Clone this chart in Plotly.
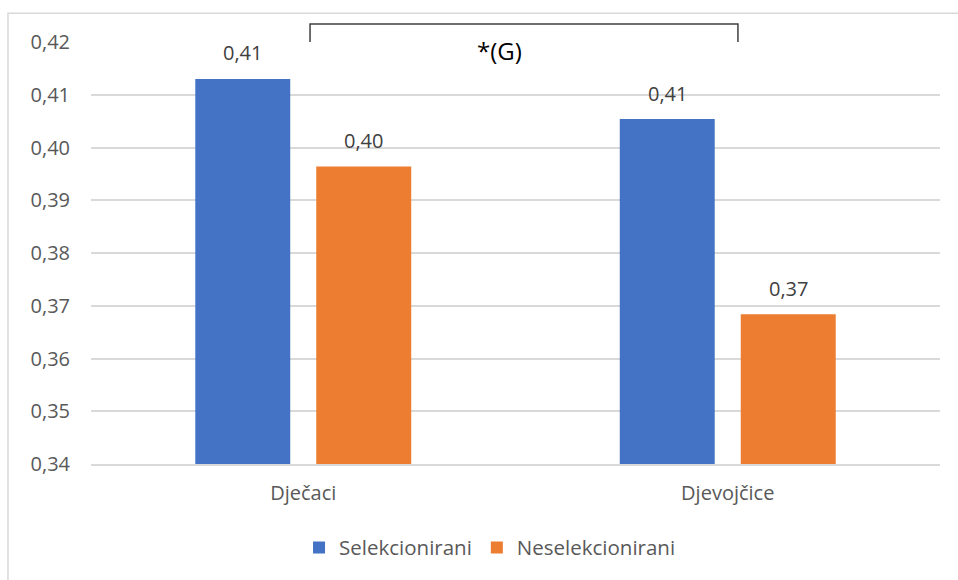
import plotly.graph_objects as go

categories = ["Dječaci", "Djevojčice"]
series_names = ["Selekcionirani", "Neselekcionirani"]
selekcionirani = [0.4130, 0.4054]
neselekcionirani = [0.3964, 0.3684]
y_ticks = [0.34, 0.35, 0.36, 0.37, 0.38, 0.39, 0.40, 0.41, 0.42]
colors = ["#4472C4", "#ED7D31"]
sig_label = "*(G)"

FONT = "Open Sans"
TXT = "#595959"

fig = go.Figure()
for name, vals, col in zip(series_names, [selekcionirani, neselekcionirani], colors):
    fig.add_trace(go.Bar(x=categories, y=vals, name=name, marker=dict(color=col, line_width=0)))

# data labels
for vals, shift in zip([selekcionirani, neselekcionirani], [-60.5, 60.5]):
    for c, v in zip(categories, vals):
        fig.add_annotation(x=c, y=v, xref="x", yref="y", text=f"{v:.2f}".replace(".", ","),
                           showarrow=False, xshift=shift, yshift=26, yanchor="middle",
                           font=dict(family=FONT, size=20, color="#404040"))

# significance bracket
fig.add_shape(type="path", xref="paper", yref="paper",
              path="M 0.258 1.0 L 0.258 1.0425 L 0.762 1.0425 L 0.762 1.0",
              line=dict(color="#404040", width=1.5))
fig.add_annotation(x=0.4806, y=0.981, xref="paper", yref="paper", text=sig_label, showarrow=False,
                   xanchor="center", yanchor="middle", font=dict(family=FONT, size=24, color="#000000"))

# chart frame
fig.add_shape(type="rect", xref="paper", yref="paper", x0=-0.0978, y0=-0.4, x1=1.1, y1=1.0684,
              line=dict(color="#D9D9D9", width=1.5), layer="below")

fig.update_layout(
    width=958, height=580,
    margin=dict(l=91, r=18, t=42, b=114),
    paper_bgcolor="white", plot_bgcolor="white",
    separators=",.",
    barmode="group", bargap=0.43, bargroupgap=0.215,
    font=dict(family=FONT, size=20, color=TXT),
    showlegend=True,
    legend=dict(orientation="h", x=0.47, xanchor="center", y=-0.198, yanchor="middle",
                font=dict(family=FONT, size=20.5, color=TXT), itemwidth=30, traceorder="normal"),
    xaxis=dict(showline=True, linecolor="#D9D9D9", linewidth=1.5, showgrid=False,
               ticks="", ticklabelstandoff=10, tickfont=dict(size=20, color=TXT)),
    yaxis=dict(range=[0.34, 0.42], tickvals=y_ticks, tickformat=".2f", showgrid=True,
               gridcolor="#D9D9D9", gridwidth=1.5, zeroline=False, showline=False,
               ticks="", ticklabelstandoff=20, tickfont=dict(size=20, color=TXT)),
)

fig.write_html("out.html", config={"displayModeBar": False},
               post_script="document.body.style.margin='0px';")
